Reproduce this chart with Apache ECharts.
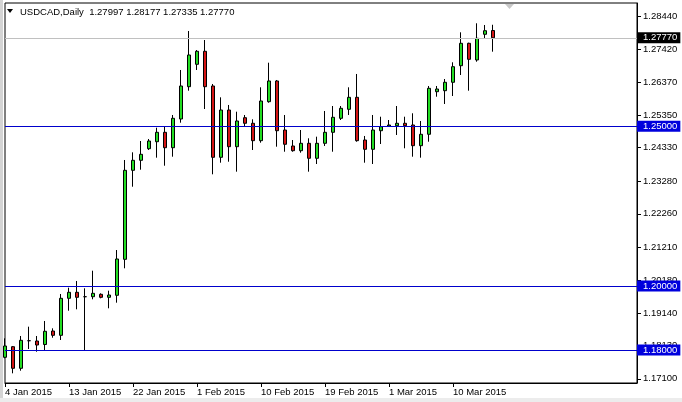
<!DOCTYPE html>
<html><head><meta charset="utf-8">
<script src="https://cdn.jsdelivr.net/npm/echarts@6/dist/echarts.min.js"></script>
<style>html,body{margin:0;padding:0;background:#fff}#c{width:682px;height:402px}</style>
</head><body><div id="c"></div>
<script>
const symbolName = 'USDCAD';
const timeframe = 'Daily';
const dates = [
 '4 Jan 2015','5 Jan 2015','6 Jan 2015','7 Jan 2015','8 Jan 2015','9 Jan 2015',
 '11 Jan 2015','12 Jan 2015','13 Jan 2015','14 Jan 2015','15 Jan 2015','16 Jan 2015',
 '18 Jan 2015','19 Jan 2015','20 Jan 2015','21 Jan 2015','22 Jan 2015','23 Jan 2015',
 '25 Jan 2015','26 Jan 2015','27 Jan 2015','28 Jan 2015','29 Jan 2015','30 Jan 2015',
 '1 Feb 2015','2 Feb 2015','3 Feb 2015','4 Feb 2015','5 Feb 2015','6 Feb 2015',
 '8 Feb 2015','9 Feb 2015','10 Feb 2015','11 Feb 2015','12 Feb 2015','13 Feb 2015',
 '15 Feb 2015','16 Feb 2015','17 Feb 2015','18 Feb 2015','19 Feb 2015','20 Feb 2015',
 '22 Feb 2015','23 Feb 2015','24 Feb 2015','25 Feb 2015','26 Feb 2015','27 Feb 2015',
 '1 Mar 2015','2 Mar 2015','3 Mar 2015','4 Mar 2015','5 Mar 2015','6 Mar 2015',
 '8 Mar 2015','9 Mar 2015','10 Mar 2015','11 Mar 2015','12 Mar 2015','13 Mar 2015',
 '15 Mar 2015','16 Mar 2015'
];
const openP = [
 1.17772,1.18104,1.17428,1.18291,1.18282,1.18173,1.18595,1.18460,1.19618,1.19806,
 1.19668,1.19668,1.19743,1.19649,1.19712,1.20838,1.23623,1.23936,1.24299,1.24518,
 1.24812,1.24330,1.25228,1.26239,1.26940,1.27347,1.26261,1.24030,1.25510,1.24362,
 1.25269,1.25094,1.24550,1.25770,1.26418,1.24884,1.24384,1.24236,1.24468,1.23999,
 1.24468,1.24812,1.25250,1.25532,1.25907,1.24571,1.24280,1.24862,1.25009,1.25019,
 1.25094,1.25041,1.24393,1.24750,1.26083,1.26114,1.26377,1.26896,1.27597,1.27075,
 1.27879,1.27997
];
const closeP = [
 1.18126,1.17428,1.18304,1.18291,1.18157,1.18586,1.18460,1.19618,1.19806,1.19649,
 1.19668,1.19774,1.19649,1.19721,1.20848,1.23623,1.23936,1.24124,1.24540,1.24812,
 1.24330,1.25250,1.26261,1.27231,1.27347,1.26239,1.24030,1.25510,1.24362,1.25166,
 1.25094,1.24550,1.25792,1.26418,1.24862,1.24437,1.24236,1.24468,1.23999,1.24468,
 1.24812,1.25282,1.25563,1.25907,1.24550,1.24280,1.24884,1.24988,1.25041,1.25094,
 1.25019,1.24393,1.24750,1.26189,1.26167,1.26377,1.26865,1.27597,1.27096,1.27754,
 1.27991,1.27770
];
const lowP = [
 1.17741,1.17271,1.17353,1.18032,1.17947,1.18000,1.18385,1.18313,1.19230,1.19274,
 1.18000,1.19587,1.19618,1.19305,1.19481,1.20557,1.23110,1.23642,1.24258,1.24018,
 1.23767,1.24049,1.25113,1.26114,1.26762,1.25541,1.23498,1.23861,1.23892,1.23580,
 1.25009,1.24258,1.24487,1.25738,1.24362,1.24205,1.24205,1.24174,1.23580,1.23820,
 1.24384,1.24205,1.25197,1.25354,1.24518,1.23861,1.23820,1.24446,1.24988,1.24728,
 1.24312,1.24049,1.24018,1.24518,1.25926,1.25698,1.25948,1.26605,1.26114,1.27021,
 1.27754,1.27335
];
const highP = [
 1.18366,1.18126,1.18439,1.18730,1.18439,1.18908,1.18679,1.19753,1.19950,1.20160,
 1.19931,1.20482,1.19774,1.19856,1.21129,1.23946,1.24186,1.24540,1.24603,1.24956,
 1.24988,1.25354,1.26762,1.27982,1.27387,1.27700,1.26324,1.25907,1.25667,1.25457,
 1.25354,1.25219,1.26220,1.26990,1.26449,1.25354,1.24571,1.24884,1.24625,1.24675,
 1.25479,1.25635,1.25635,1.26220,1.26637,1.24697,1.25354,1.25300,1.25197,1.25635,
 1.25300,1.25407,1.25166,1.26261,1.26261,1.26480,1.27003,1.27941,1.27616,1.28223,
 1.28170,1.28177
];
const yTickValues = [1.17100,1.18130,1.19140,1.20180,1.21210,1.22260,1.23280,1.24330,1.25350,1.26370,1.27420,1.28440];
const levelLines = [1.25000, 1.20000, 1.18000];
const labelEvery = 8;

const FONT = 'Liberation Sans';
const totalSlots = 80;
const cats = dates.concat(new Array(totalSlots - dates.length).fill(''));
const candles = dates.map((d, i) => [openP[i], closeP[i], lowP[i], highP[i]]);
const last = dates.length - 1;
const currentPrice = closeP[last];
const showIdx = (idx, val) => val !== '' && idx % labelEvery === 0;

const lineLabel = (v, bg) => ({
  show: true, position: 'end', distance: 0, formatter: () => v.toFixed(5),
  color: '#fff', backgroundColor: bg, padding: [1, 3, 0, 6], lineHeight: 10,
  fontFamily: FONT, fontSize: 9.5
});

const chart = echarts.init(document.getElementById('c'), null, {renderer: 'canvas'});
chart.setOption({
  animation: false,
  backgroundColor: '#fff',
  title: {
    text: symbolName + ',' + timeframe + '  ' + [openP[last], highP[last], lowP[last], closeP[last]].map(v => v.toFixed(5)).join(' '),
    left: 20, top: 7, padding: 0,
    textStyle: {fontFamily: FONT, fontSize: 9.5, fontWeight: 'normal', color: '#000'}
  },
  graphic: [
    {type: 'polygon', shape: {points: [[7, 9], [13, 9], [10, 13]]}, style: {fill: '#000'}, silent: true},
    {type: 'polygon', shape: {points: [[505, 4], [514, 4], [509.5, 9]]}, style: {fill: '#c8c8c8'}, silent: true},
    {type: 'rect', shape: {x: 0, y: 0, width: 3, height: 402}, style: {fill: '#d4d4d4'}, silent: true},
    {type: 'rect', shape: {x: 0, y: 398, width: 682, height: 4}, style: {fill: '#ececec'}, silent: true}
  ],
  grid: {left: 5, right: 45, top: 3, bottom: 19, show: true, borderColor: '#000', borderWidth: 1, backgroundColor: '#fff'},
  xAxis: {
    type: 'category', data: cats, boundaryGap: false,
    axisLine: {lineStyle: {color: '#000', width: 1}},
    axisTick: {show: true, length: 4, interval: showIdx, lineStyle: {color: '#000'}},
    axisLabel: {interval: showIdx, align: 'left', color: '#000', fontFamily: FONT, fontSize: 9.5, margin: 4},
    splitLine: {show: false}
  },
  yAxis: {
    type: 'value', position: 'right', min: 1.16968, max: 1.28858,
    axisLine: {show: true, lineStyle: {color: '#000', width: 1}},
    axisTick: {show: true, length: 4, customValues: yTickValues, lineStyle: {color: '#000'}},
    axisLabel: {customValues: yTickValues, formatter: v => v.toFixed(5), color: '#000', fontFamily: FONT, fontSize: 9.5, margin: 6},
    splitLine: {show: false}
  },
  series: [{
    type: 'candlestick',
    data: candles,
    barWidth: 4,
    itemStyle: {
      color: '#22dd22', color0: '#d41414',
      borderColor: '#000', borderColor0: '#000', borderColorDoji: '#000', borderWidth: 1
    },
    markLine: {
      symbol: 'none', silent: true, animation: false, precision: 5,
      data: levelLines.map(v => ({
        yAxis: v,
        lineStyle: {color: '#0000cc', width: 1, type: 'solid'},
        label: lineLabel(v, '#0000dd')
      })).concat([{
        yAxis: currentPrice,
        lineStyle: {color: '#c0c0c0', width: 1, type: 'solid'},
        label: lineLabel(currentPrice, '#000')
      }])
    }
  }]
});
</script></body></html>
